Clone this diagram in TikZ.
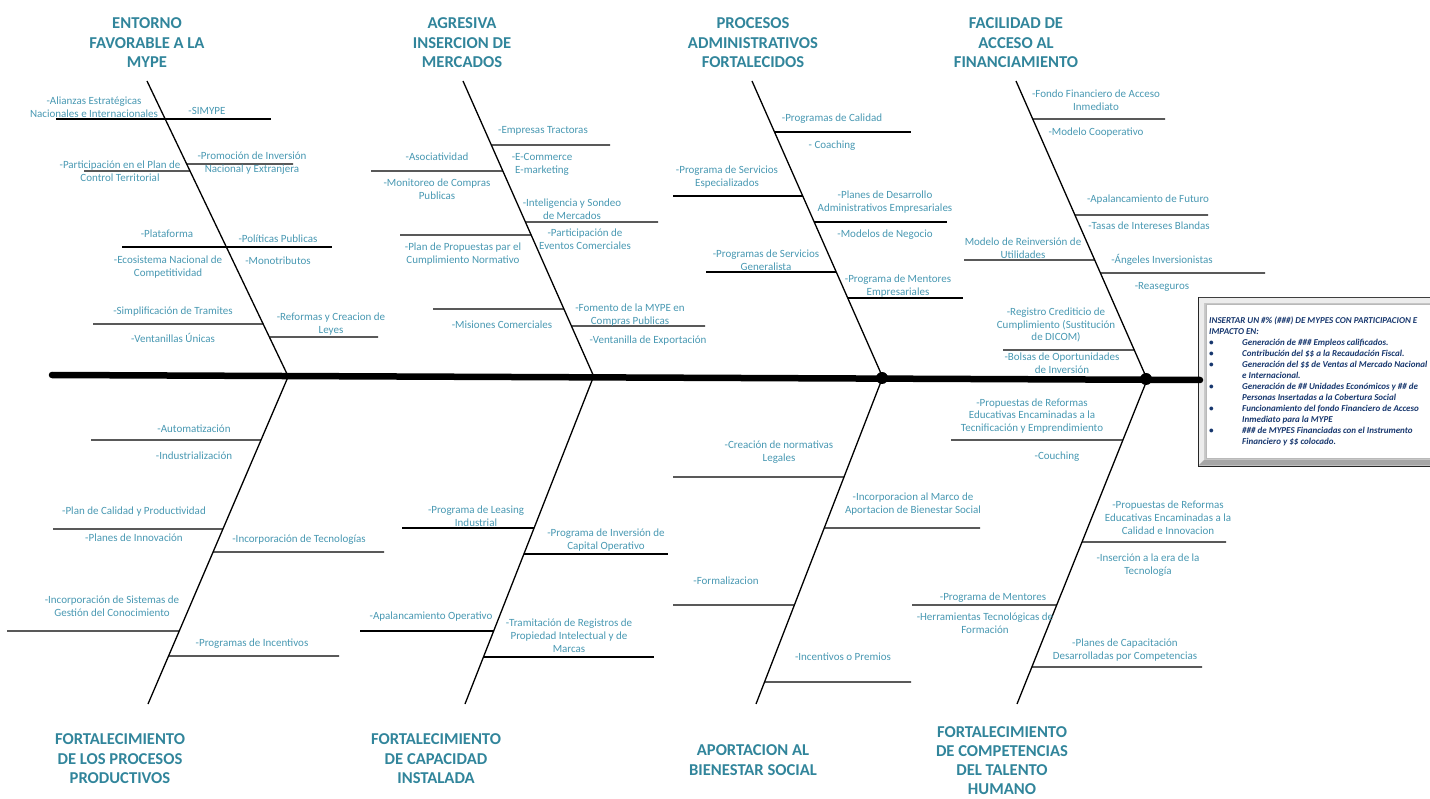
\documentclass[tikz,border=0pt]{standalone}
\usepackage{fontspec}
\setmainfont{Carlito}
\definecolor{lblc}{RGB}{72,152,178}
\definecolor{ttlc}{RGB}{49,133,155}
\definecolor{boxc}{RGB}{23,55,110}
\tikzset{
  bone/.style={line width=1.3, black},
  br/.style={line width=1.3, black},
  spine/.style={line width=6.5, line cap=round, black},
  lbl/.style={text=lblc, font=\fontsize{11}{12.8}\selectfont, align=center, inner sep=0},
  ttl/.style={text=ttlc, font=\fontsize{16.6}{19.5}\selectfont\bfseries, align=center, inner sep=0},
  boxtxt/.style={text=boxc, font=\fontsize{9}{11}\selectfont\bfseries\itshape, align=left, inner sep=0},
}
\newcommand\bul{\makebox[33pt][l]{\textbullet}}
\newcommand\ind{\hspace*{33pt}}
\begin{document}
\begin{tikzpicture}[x=1pt,y=-1pt]
\useasboundingbox (0,0) rectangle (1430,799);
% coordinates of spine and bones
\coordinate (sp0) at (52,375);
\coordinate (sp1) at (1200,380);
\coordinate (T1s) at (147,81);  \coordinate (T1e) at (288,376);
\coordinate (T2s) at (463,81);  \coordinate (T2e) at (594,377);
\coordinate (T3s) at (752,81);  \coordinate (T3e) at (883,378);
\coordinate (T4s) at (1016,81); \coordinate (T4e) at (1147,379);
\coordinate (B1s) at (288,377); \coordinate (B1e) at (148,704);
\coordinate (B2s) at (593,378); \coordinate (B2e) at (465,704);
\coordinate (B3s) at (882,379); \coordinate (B3e) at (756,704);
\coordinate (B4s) at (1147,380);\coordinate (B4e) at (1017,704);

% callout box
\node[draw=black!85, line width=1.4, fill=gray!45, minimum width=250, minimum height=169, anchor=north west, inner sep=0] (box) at (1198,297) {};
\fill[gray!15] (1199,298) -- (1445,298) -- (1440,303) -- (1204,303) -- (1204,460) -- (1199,465) -- cycle;
\fill[gray!70] (1199,465) -- (1204,460) -- (1440,460) -- (1445,465) -- cycle;
\node[draw=gray!55, line width=0.8, fill=white, minimum width=240, minimum height=154, anchor=north west, inner sep=0] (boxin) at (1206,304) {};
\node[boxtxt, anchor=north west] (boxtext) at (1209,317) {INSERTAR UN \#\% (\#\#\#) DE MYPES CON PARTICIPACION E\\
IMPACTO EN:\\
\bul Generación de \#\#\# Empleos calificados.\\
\bul Contribución del \$\$ a la Recaudación Fiscal.\\
\bul Generación del \$\$ de Ventas al Mercado Nacional\\
\ind e Internacional.\\
\bul Generación de \#\# Unidades Económicos y \#\# de\\
\ind Personas Insertadas a la Cobertura Social\\
\bul Funcionamiento del fondo Financiero de Acceso\\
\ind Inmediato para la MYPE\\
\bul \#\#\# de MYPES Financiadas con el Instrumento\\
\ind Financiero y \$\$ colocado.};

% spine
\draw[spine] (sp0) -- (sp1);
\fill (882,378) circle (6);
\fill (1146,379) circle (6);

% bones
\draw[bone] (T1s) -- (T1e);
\draw[bone] (T2s) -- (T2e);
\draw[bone] (T3s) -- (T3e);
\draw[bone] (T4s) -- (T4e);
\draw[bone] (B1s) -- (B1e);
\draw[bone] (B2s) -- (B2e);
\draw[bone] (B3s) -- (B3e);
\draw[bone] (B4s) -- (B4e);

% ---------- branches T1
\draw[br] (56,119) -- (271,119);
\draw[br] (84,171) -- (intersection of T1s--T1e and 0,171--1,171);
\draw[br] (intersection of T1s--T1e and 0,164--1,164) -- (293,164);
\draw[br] (122,247) -- (332,247);
\draw[br] (93,324) -- (intersection of T1s--T1e and 0,324--1,324);
\draw[br] (intersection of T1s--T1e and 0,337--1,337) -- (378,337);
% T2
\draw[br] (intersection of T2s--T2e and 0,145--1,145) -- (610,145);
\draw[br] (371,171) -- (intersection of T2s--T2e and 0,171--1,171);
\draw[br] (intersection of T2s--T2e and 0,222--1,222) -- (658,222);
\draw[br] (400,235) -- (intersection of T2s--T2e and 0,235--1,235);
\draw[br] (433,309) -- (intersection of T2s--T2e and 0,309--1,309);
\draw[br] (intersection of T2s--T2e and 0,326--1,326) -- (705,326);
% T3
\draw[br] (intersection of T3s--T3e and 0,132--1,132) -- (911,132);
\draw[br] (673,196) -- (intersection of T3s--T3e and 0,196--1,196);
\draw[br] (intersection of T3s--T3e and 0,222--1,222) -- (947,222);
\draw[br] (706,272) -- (intersection of T3s--T3e and 0,272--1,272);
\draw[br] (intersection of T3s--T3e and 0,298--1,298) -- (963,298);
% T4
\draw[br] (intersection of T4s--T4e and 0,119--1,119) -- (1165,119);
\draw[br] (intersection of T4s--T4e and 0,215--1,215) -- (1208,215);
\draw[br] (964,260) -- (intersection of T4s--T4e and 0,260--1,260);
\draw[br] (intersection of T4s--T4e and 0,273--1,273) -- (1265,273);
\draw[br] (1003,350) -- (intersection of T4s--T4e and 0,350--1,350);
% B1
\draw[br] (91,440) -- (intersection of B1s--B1e and 0,440--1,440);
\draw[br] (53,529) -- (intersection of B1s--B1e and 0,529--1,529);
\draw[br] (intersection of B1s--B1e and 0,552--1,552) -- (384,552);
\draw[br] (7,631) -- (intersection of B1s--B1e and 0,631--1,631);
\draw[br] (intersection of B1s--B1e and 0,656--1,656) -- (339,656);
% B2
\draw[br] (402,528) -- (intersection of B2s--B2e and 0,528--1,528);
\draw[br] (intersection of B2s--B2e and 0,554--1,554) -- (668,554);
\draw[br] (360,631) -- (intersection of B2s--B2e and 0,631--1,631);
\draw[br] (intersection of B2s--B2e and 0,657--1,657) -- (654,657);
% B3
\draw[br] (673,477) -- (intersection of B3s--B3e and 0,477--1,477);
\draw[br] (intersection of B3s--B3e and 0,528--1,528) -- (980,528);
\draw[br] (673,605) -- (intersection of B3s--B3e and 0,605--1,605);
\draw[br] (intersection of B3s--B3e and 0,682--1,682) -- (911,682);
% B4
\draw[br] (951,440) -- (intersection of B4s--B4e and 0,440--1,440);
\draw[br] (intersection of B4s--B4e and 0,542--1,542) -- (1226,542);
\draw[br] (912,605) -- (intersection of B4s--B4e and 0,605--1,605);
\draw[br] (intersection of B4s--B4e and 0,667--1,667) -- (1202,667);

% ---------- titles
\node[ttl] (tt1) at (147,43) {ENTORNO\\FAVORABLE A LA\\MYPE};
\node[ttl] (tt2) at (462,43) {AGRESIVA\\INSERCION DE\\MERCADOS};
\node[ttl] (tt3) at (753,43) {PROCESOS\\ADMINISTRATIVOS\\FORTALECIDOS};
\node[ttl] (tt4) at (1016,43) {FACILIDAD DE\\ACCESO AL\\FINANCIAMIENTO};
\node[ttl] (bt1) at (120,759) {FORTALECIMIENTO\\DE LOS PROCESOS\\PRODUCTIVOS};
\node[ttl] (bt2) at (436,759) {FORTALECIMIENTO\\DE CAPACIDAD\\INSTALADA};
\node[ttl] (bt3) at (753,760) {APORTACION AL\\BIENESTAR SOCIAL};
\node[ttl, font=\fontsize{16.6}{19}\selectfont\bfseries] (bt4) at (1002,761) {FORTALECIMIENTO\\DE COMPETENCIAS\\DEL TALENTO\\HUMANO};

% ---------- labels T1
\node[lbl] (a1) at (94,107) {-Alianzas Estratégicas\\Nacionales e Internacionales};
\node[lbl] (a2) at (207,111) {-SIMYPE};
\node[lbl] (a3) at (120,171) {-Participación en el Plan de\\Control Territorial};
\node[lbl] (a4) at (252,163) {-Promoción de Inversión\\Nacional y Extranjera};
\node[lbl] (a5) at (167,234) {-Plataforma};
\node[lbl] (a6) at (278,239) {-Políticas Publicas};
\node[lbl] (a7) at (168,267) {-Ecosistema Nacional de\\Competitividad};
\node[lbl] (a8) at (278,261) {-Monotributos};
\node[lbl] (a9) at (173,312) {-Simplificación de Tramites};
\node[lbl] (a10) at (173,338) {-Ventanillas Únicas};
\node[lbl] (a11) at (331,324) {-Reformas y Creacion de\\Leyes};
% T2
\node[lbl] (b1) at (543,131) {-Empresas Tractoras};
\node[lbl] (b2) at (437,157) {-Asociatividad};
\node[lbl] (b3) at (542,164) {-E-Commerce\\E-marketing};
\node[lbl] (b4) at (437,189) {-Monitoreo de Compras\\Publicas};
\node[lbl] (b5) at (572,209) {-Inteligencia y Sondeo\\de Mercados};
\node[lbl] (b6) at (585,239) {-Participación de\\Eventos Comerciales};
\node[lbl] (b7) at (463,254) {-Plan de Propuestas par el\\Cumplimiento Normativo};
\node[lbl] (b8) at (502,325) {-Misiones Comerciales};
\node[lbl] (b9) at (630,315) {-Fomento de la MYPE en\\Compras Publicas};
\node[lbl] (b10) at (648,341) {-Ventanilla de Exportación};
% T3
\node[lbl] (c1) at (832,119) {-Programas de Calidad};
\node[lbl] (c2) at (832,146) {- Coaching};
\node[lbl] (c3) at (727,177) {-Programa de Servicios\\Especializados};
\node[lbl] (c4) at (885,202) {-Planes de Desarrollo\\Administrativos Empresariales};
\node[lbl] (c5) at (885,235) {-Modelos de Negocio};
\node[lbl] (c6) at (766,260) {-Programas de Servicios\\Generalista};
\node[lbl] (c7) at (898,286) {-Programa de Mentores\\Empresariales};
% T4
\node[lbl] (d1) at (1096,100) {-Fondo Financiero de Acceso\\Inmediato};
\node[lbl] (d2) at (1096,133) {-Modelo Cooperativo};
\node[lbl] (d3) at (1148,200) {-Apalancamiento de Futuro};
\node[lbl] (d4) at (1149,226) {-Tasas de Intereses Blandas};
\node[lbl] (d5) at (1023,248) {Modelo de Reinversión de\\Utilidades};
\node[lbl] (d6) at (1162,260) {-Ángeles Inversionistas};
\node[lbl] (d7) at (1162,287) {-Reaseguros};
\node[lbl] (d8) at (1056,325) {-Registro Crediticio de\\Cumplimiento (Sustitución\\de DICOM)};
\node[lbl] (d9) at (1062,363) {-Bolsas de Oportunidades\\de Inversión};
% B1
\node[lbl] (e1) at (194,429) {-Automatización};
\node[lbl] (e2) at (194,456) {-Industrialización};
\node[lbl] (e3) at (134,512) {-Plan de Calidad y Productividad};
\node[lbl] (e4) at (134,538) {-Planes de Innovación};
\node[lbl] (e5) at (299,540) {-Incorporación de Tecnologías};
\node[lbl] (e6) at (112,606) {-Incorporación de Sistemas de\\Gestión del Conocimiento};
\node[lbl] (e7) at (252,644) {-Programas de Incentivos};
% B2
\node[lbl] (f1) at (476,516) {-Programa de Leasing\\Industrial};
\node[lbl] (f2) at (606,540) {-Programa de Inversión de\\Capital Operativo};
\node[lbl] (f3) at (431,617) {-Apalancamiento Operativo};
\node[lbl] (f4) at (569,636) {-Tramitación de Registros de\\Propiedad Intelectual y de\\Marcas};
% B3
\node[lbl] (g1) at (779,452) {-Creación de normativas\\Legales};
\node[lbl] (g2) at (913,504) {-Incorporacion al Marco de\\Aportacion de Bienestar Social};
\node[lbl] (g3) at (726,581) {-Formalizacion};
\node[lbl] (g4) at (843,657) {-Incentivos o Premios};
% B4
\node[lbl] (h1) at (1032,416) {-Propuestas de Reformas\\Educativas Encaminadas a la\\Tecnificación y Emprendimiento};
\node[lbl] (h2) at (1057,457) {-Couching};
\node[lbl] (h3) at (1168,518) {-Propuestas de Reformas\\Educativas Encaminadas a la\\Calidad e Innovacion};
\node[lbl] (h4) at (1148,565) {-Inserción a la era de la\\Tecnología};
\node[lbl] (h5) at (993,598) {-Programa de Mentores};
\node[lbl] (h6) at (985,623) {-Herramientas Tecnológicas de\\Formación};
\node[lbl] (h7) at (1125,650) {-Planes de Capacitación\\Desarrolladas por Competencias};
\end{tikzpicture}
\end{document}
